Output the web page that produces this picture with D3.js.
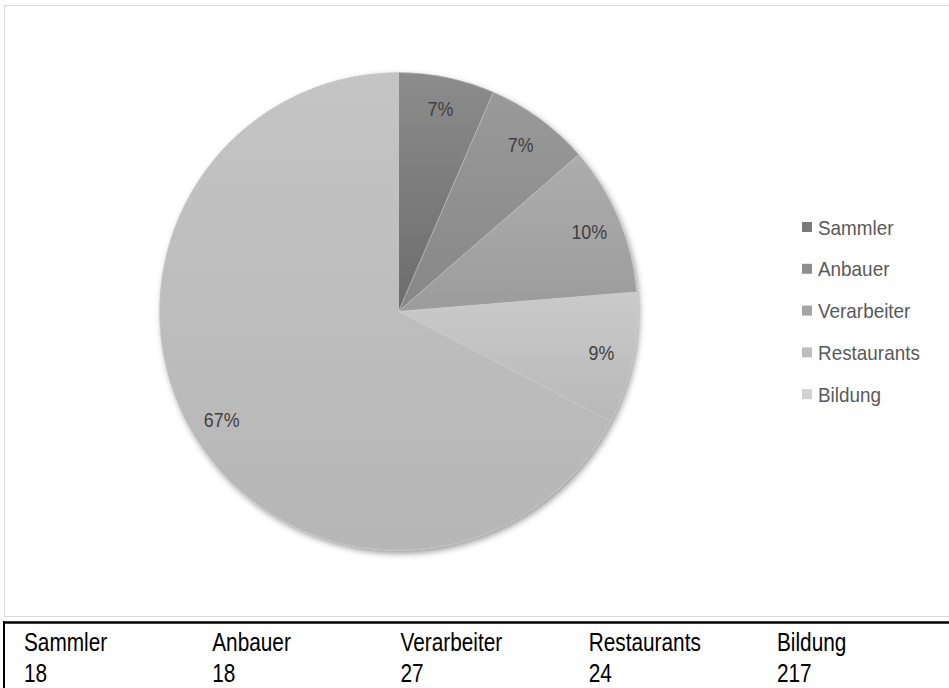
<!DOCTYPE html>
<html><head><meta charset="utf-8">
<script src="https://cdn.jsdelivr.net/npm/d3@7"></script>
<style>body{margin:0;background:#fff;}svg{display:block;}</style>
</head><body>
<svg id="c" width="949" height="688"></svg>
<script>
const categories = ["Sammler","Anbauer","Verarbeiter","Restaurants","Bildung"];
const counts = [18,18,27,24,217];
const pieShare = [6.5,7.1,10.1,8.9,67.4];
const gradTop = ["#8c8c8c","#999999","#adadad","#cacaca","#c4c4c4"];
const gradBot = ["#6c6c6c","#878787","#9c9c9c","#b8b8b8","#b6b6b6"];
const legendColors = ["#797979","#8f8f8f","#a4a4a4","#bebebe","#d2d2d2"];

const FONT = "'Liberation Sans', Arial, sans-serif";
const svg = d3.select("#c");
const defs = svg.append("defs");
categories.forEach((c,i)=>{
  const g = defs.append("linearGradient").attr("id","g"+i).attr("x1",0).attr("y1",0).attr("x2",0).attr("y2",1);
  g.append("stop").attr("offset","0%").attr("stop-color",gradTop[i]);
  g.append("stop").attr("offset","100%").attr("stop-color",gradBot[i]);
});
const f = defs.append("filter").attr("id","sh").attr("x","-10%").attr("y","-10%").attr("width","120%").attr("height","120%");
f.append("feDropShadow").attr("dx",2).attr("dy",3).attr("stdDeviation",3).attr("flood-color","#000").attr("flood-opacity",0.4);

// chart frame
svg.append("rect").attr("x",4.5).attr("y",5.5).attr("width",950).attr("height",611)
  .attr("fill","#fff").attr("stroke","#d9d9d9").attr("stroke-width",1);

const cx = 398.5, cy = 311.5, R = 239;
const pie = d3.pie().sort(null).value(d=>d)(pieShare);
const arc = d3.arc().innerRadius(0).outerRadius(R);
const labelArc = d3.arc().innerRadius(207).outerRadius(207);
const total = d3.sum(pieShare);

const g = svg.append("g").attr("transform",`translate(${cx},${cy})`);
g.append("circle").attr("r",R).attr("fill","#bbb").attr("filter","url(#sh)");
g.selectAll("path.s").data(pie).join("path").attr("class","s")
  .attr("d",arc).attr("fill",(d,i)=>`url(#g${i})`)
  .attr("stroke","#d8d8d8").attr("stroke-width",0.6).attr("stroke-opacity",0.6);
g.selectAll("text.l").data(pie).join("text").attr("class","l")
  .attr("transform",d=>`translate(${labelArc.centroid(d)}) scale(0.85,1)`)
  .attr("text-anchor","middle").attr("dy","0.36em")
  .attr("font-family",FONT).attr("font-size",21)
  .attr("fill","#404040")
  .text(d=>Math.round(d.value/total*100)+"%");

// legend
const leg = svg.append("g").attr("transform","translate(802,227)");
const li = leg.selectAll("g").data(categories).join("g").attr("transform",(d,i)=>`translate(0,${i*41.8})`);
li.append("rect").attr("x",0).attr("y",-5).attr("width",10).attr("height",10).attr("fill",(d,i)=>legendColors[i]);
li.append("text").attr("transform","translate(16,0) scale(0.9,1)").attr("dy","0.36em")
  .attr("font-family",FONT).attr("font-size",21).attr("fill","#595959")
  .text(d=>d);

// table
svg.append("line").attr("x1",3).attr("x2",949).attr("y1",622.5).attr("y2",622.5).attr("stroke","#000").attr("stroke-width",2.5);
svg.append("line").attr("x1",4).attr("x2",4).attr("y1",621).attr("y2",688).attr("stroke","#000").attr("stroke-width",2);
const colX = d3.scalePoint().domain(categories).range([24,777]);
const tb = svg.append("g").attr("font-family",FONT).attr("font-size",26).attr("fill","#000");
tb.selectAll("text.h").data(categories).join("text").attr("class","h")
  .attr("transform",d=>`translate(${colX(d)},651) scale(0.8,1)`).text(d=>d);
tb.selectAll("text.v").data(counts).join("text").attr("class","v")
  .attr("transform",(d,i)=>`translate(${colX(categories[i])},682) scale(0.8,1)`).text(d=>d);
</script>
</body></html>
